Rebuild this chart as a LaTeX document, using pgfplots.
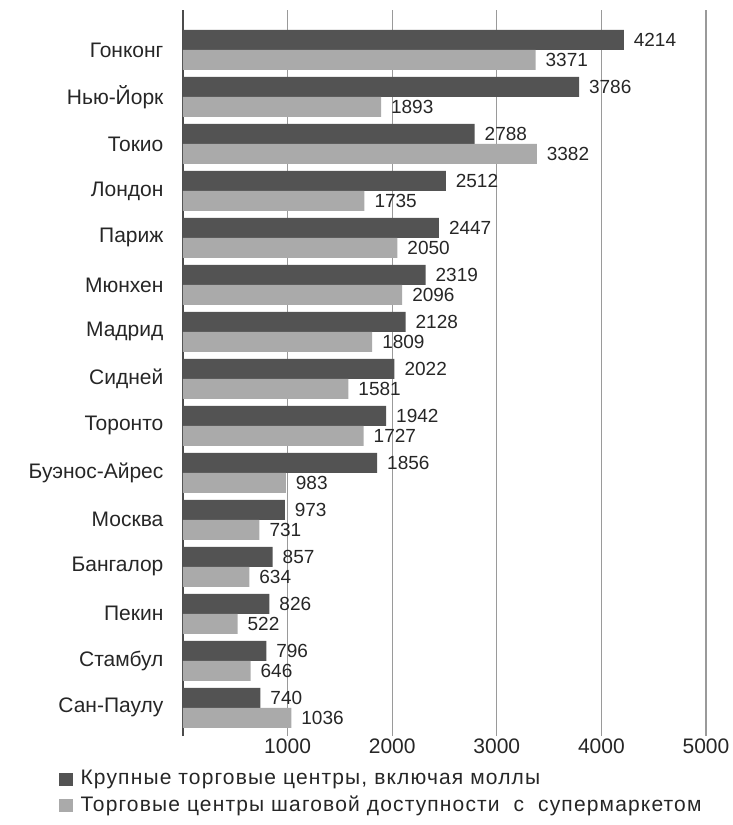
\documentclass[border=0pt]{standalone}
\usepackage{pgfplots}
\pgfplotsset{compat=1.18}
\usepackage{pgfplotstable}
\usepackage{fontspec}
\setmainfont{Liberation Sans}
\newfontfamily\lfont{Liberation Sans}[LetterSpace=5.5]
\definecolor{darkbar}{HTML}{535353}
\definecolor{lightbar}{HTML}{AAAAAA}
\definecolor{gridc}{HTML}{9A9A9A}
\pgfplotstableread{
y a b
14 4214 3371
13 3786 1893
12 2788 3382
11 2512 1735
10 2447 2050
9 2319 2096
8 2128 1809
7 2022 1581
6 1942 1727
5 1856 983
4 973 731
3 857 634
2 826 522
1 796 646
0 740 1036
}\datatable
\begin{document}
\begin{tikzpicture}
\begin{axis}[
  scale only axis,
  width=261.5pt, height=363pt,
  xmin=0, xmax=5000,
  ymin=-0.6, ymax=14.85,
  xbar, bar width=10pt,
  axis line style={draw=none},
  tick style={draw=none},
  xtick={1000,2000,3000,4000,5000},
  xticklabels={1000,2000,3000,4000,5000},
  xmajorgrids, major grid style={gridc, line width=0.6pt},
  extra x ticks={0}, extra x tick labels={},
  extra x tick style={grid=major, major grid style={black!70, line width=0.8pt}},
  x tick label style={font=\fontsize{10.5}{12}\selectfont, text=black!85, yshift=2pt},
  ytick={0,...,14},
  yticklabels={Сан-Паулу,Стамбул,Пекин,Бангалор,Москва,Буэнос-Айрес,Торонто,Сидней,Мадрид,Мюнхен,Париж,Лондон,Токио,Нью-Йорк,Гонконг},
  y tick label style={font=\fontsize{10.5}{12}\selectfont, text=black!85, xshift=-2pt},
  /pgf/number format/assume math mode=true,
  /pgf/number format/1000 sep={},
  nodes near coords,
  nodes near coords style={font=\fontsize{9.5}{11}\selectfont, text=black!85, anchor=west, xshift=1.5pt,
    /pgf/number format/1000 sep={}},
  legend style={at={(axis description cs:0,0)}, anchor=north west, xshift=-65pt, yshift=-13pt,
    draw=none, fill=none, font=\lfont\fontsize{10.5}{12}\selectfont, text=black!85, row sep=0pt,
    cells={anchor=west}, /tikz/every odd column/.append style={column sep=2pt}},
  legend image code/.code={\fill[#1,draw=none] (0pt,-3.3pt) rectangle (6.6pt,3.3pt);},
]
\addplot[fill=darkbar, draw=none, bar shift=5pt] table[x=a, y=y] {\datatable};
\addlegendentry{Крупные торговые центры, включая моллы}
\addplot[fill=lightbar, draw=none, bar shift=-5pt] table[x=b, y=y] {\datatable};
\addlegendentry{Торговые центры шаговой доступности \ с \ супермаркетом}
\end{axis}
\pgfresetboundingbox
\path (-91.5pt,-44.5pt) rectangle (275pt,368pt);
\end{tikzpicture}
\end{document}
